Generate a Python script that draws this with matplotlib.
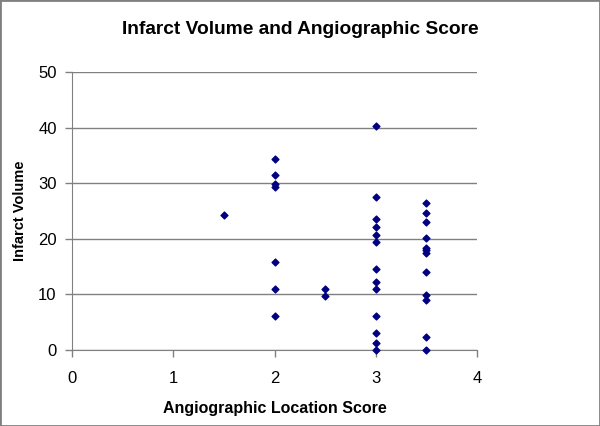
import matplotlib.pyplot as plt
from matplotlib.patches import Rectangle

plt.rcParams['font.family'] = ['Liberation Sans', 'DejaVu Sans']

# Angiographic location score vs infarct volume
score = [1.5,
         2, 2, 2, 2, 2, 2, 2,
         2.5, 2.5,
         3, 3, 3, 3, 3, 3, 3, 3, 3, 3, 3, 3, 3,
         3.5, 3.5, 3.5, 3.5, 3.5, 3.5, 3.5, 3.5, 3.5, 3.5, 3.5, 3.5]
volume = [24.2,
          34.4, 31.4, 29.8, 29.4, 15.9, 10.9, 6.1,
          10.9, 9.7,
          40.3, 27.6, 23.6, 22.2, 20.7, 19.4, 14.5, 12.3, 10.9, 6.2, 3.0, 1.2, 0.0,
          26.4, 24.7, 23.0, 20.2, 18.3, 17.9, 17.5, 14.0, 9.9, 9.0, 2.3, 0.0]

fig = plt.figure(figsize=(6, 4.26), dpi=100)
ax = fig.add_axes([72 / 600, 1 - 350 / 426, 405 / 600, 278 / 426])

ax.scatter(score, volume, marker='D', s=12, color='#000080', zorder=3, clip_on=False)

ax.set_xlim(0, 4)
ax.set_ylim(0, 50)
ax.set_xticks([0, 1, 2, 3, 4])
ax.set_yticks([0, 10, 20, 30, 40, 50])
ax.yaxis.grid(True, color='#808080', linewidth=1)
ax.set_axisbelow(True)
for s in ['top', 'right']:
    ax.spines[s].set_visible(False)
for s in ['left', 'bottom']:
    ax.spines[s].set_color('#808080')
ax.tick_params(colors='#808080', labelcolor='black', labelsize=12, length=5, width=1)
ax.tick_params(axis='x', pad=10)
ax.tick_params(axis='y', pad=6)

ax.set_xlabel('Angiographic Location Score', fontsize=11.5, fontweight='bold', labelpad=11)
ax.set_ylabel('Infarct Volume', fontsize=10.5, fontweight='bold')
ax.yaxis.set_label_coords(-0.111, 0.5)
fig.text(0.5, 1 - 29 / 426, 'Infarct Volume and Angiographic Score',
         ha='center', va='center', fontsize=13.8, fontweight='bold')

fig.patches.append(Rectangle((0, 0), 1, 1, transform=fig.transFigure, fill=False,
                             edgecolor='#808080', linewidth=2))

fig.savefig('out.png', dpi=100)
